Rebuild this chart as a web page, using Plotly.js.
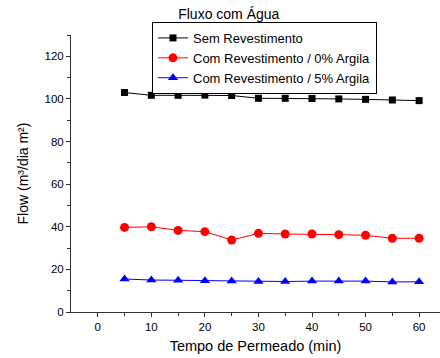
<!DOCTYPE html>
<html><head><meta charset="utf-8">
<script src="https://cdn.plot.ly/plotly-3.0.1.min.js"></script>
<style>html,body{margin:0;padding:0;background:#fff}#chart{width:440px;height:358px}</style>
</head><body><div id="chart"></div>
<script>
const times = [5, 10, 15, 20, 25, 30, 35, 40, 45, 50, 55, 60];
const semRevestimento = [103, 101.7, 101.7, 101.8, 101.6, 100.3, 100.3, 100.2, 100.0, 99.8, 99.5, 99.2];
const comRev0 = [39.7, 40.0, 38.3, 37.7, 33.8, 36.9, 36.6, 36.6, 36.3, 36.0, 34.6, 34.6];
const comRev5 = [15.5, 15.0, 14.9, 14.7, 14.5, 14.3, 14.3, 14.5, 14.5, 14.5, 14.1, 14.2];
const seriesNames = ['Sem Revestimento', 'Com Revestimento / 0% Argila', 'Com Revestimento / 5% Argila'];

const font = {family: 'Liberation Sans, Arial, sans-serif', color: '#000'};
const traces = [
  {x: times, y: semRevestimento, name: seriesNames[0], mode: 'lines+markers',
   line: {color: '#000', width: 1}, marker: {symbol: 'square', size: 7, color: '#000'}},
  {x: times, y: comRev0, name: seriesNames[1], mode: 'lines+markers',
   line: {color: '#ff0000', width: 1}, marker: {symbol: 'circle', size: 9, color: '#ff0000'}},
  {x: times, y: comRev5, name: seriesNames[2], mode: 'lines+markers',
   line: {color: '#0000ff', width: 1}, marker: {symbol: 'triangle-up', size: 9, color: '#0000ff'}}
];
const layout = {
  width: 440, height: 358,
  margin: {l: 71, r: 0, t: 35, b: 46},
  paper_bgcolor: '#fff', plot_bgcolor: '#fff',
  font: Object.assign({size: 11.5}, font),
  title: {text: 'Fluxo com Água', font: Object.assign({size: 14}, font), x: 0.52, xanchor: 'center', y: 0.962, yanchor: 'middle'},
  xaxis: {range: [-5, 63.9], tickvals: [0, 10, 20, 30, 40, 50, 60], ticks: 'outside', ticklen: 4, tickwidth: 1,
    showline: true, linecolor: '#333', linewidth: 1, tickcolor: '#333', showgrid: false, zeroline: false,
    minor: {tickvals: [5, 15, 25, 35, 45, 55], ticks: 'outside', ticklen: 3, tickcolor: '#333', showgrid: false},
    title: {text: 'Tempo de Permeado (min)', font: Object.assign({size: 14.5}, font), standoff: 9},
    tickfont: Object.assign({size: 11.5}, font)},
  yaxis: {range: [0, 130], tickvals: [0, 20, 40, 60, 80, 100, 120], ticks: 'outside', ticklen: 4, tickwidth: 1,
    showline: true, linecolor: '#333', linewidth: 1, tickcolor: '#333', showgrid: false, zeroline: false,
    minor: {tickvals: [10, 30, 50, 70, 90, 110, 130], ticks: 'outside', ticklen: 3, tickcolor: '#333', showgrid: false},
    title: {text: 'Flow (m³/dia m²)', font: Object.assign({size: 14}, font), standoff: 12},
    tickfont: Object.assign({size: 11.5}, font)},
  legend: {x: 0.2195, y: 1.047, xanchor: 'left', yanchor: 'top', bordercolor: '#000', borderwidth: 1,
    bgcolor: '#fff', font: Object.assign({size: 13}, font), tracegroupgap: 0, itemwidth: 30},
  showlegend: true
};
Plotly.newPlot('chart', traces, layout, {displayModeBar: false, staticPlot: true});
</script></body></html>
